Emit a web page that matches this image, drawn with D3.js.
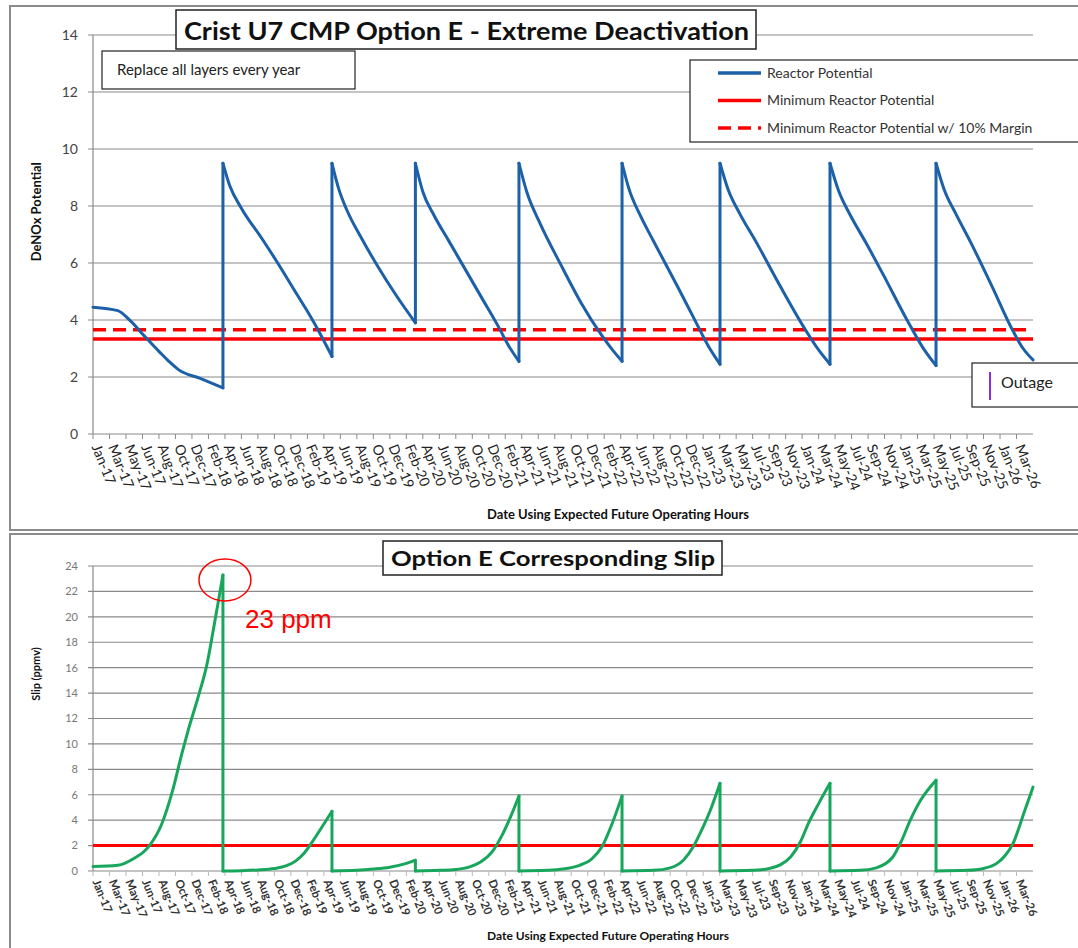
<!DOCTYPE html>
<html>
<head>
<meta charset="utf-8">
<script src="https://cdnjs.cloudflare.com/ajax/libs/d3/7.8.5/d3.min.js"></script>
<style>
  body { margin: 0; background: #fff; }
  svg { display: block; font-family: Lato, "Open Sans", sans-serif; }
</style>
</head>
<body>
<div id="chart"></div>
<script>
var width = 1078;
var height = 948;

// Date labels (expected future operating hours), one per category tick
var dateLabels = ["Jan-17","Mar-17","May-17","Jun-17","Aug-17","Oct-17","Dec-17",
  "Feb-18","Apr-18","Jun-18","Aug-18","Oct-18","Dec-18",
  "Feb-19","Apr-19","Jun-19","Aug-19","Oct-19","Dec-19",
  "Feb-20","Apr-20","Jun-20","Aug-20","Oct-20","Dec-20",
  "Feb-21","Apr-21","Jun-21","Aug-21","Oct-21","Dec-21",
  "Feb-22","Apr-22","Jun-22","Aug-22","Oct-22","Dec-22",
  "Jan-23","Mar-23","May-23","Jul-23","Sep-23","Nov-23",
  "Jan-24","Mar-24","May-24","Jul-24","Sep-24","Nov-24",
  "Jan-25","Mar-25","May-25","Jul-25","Sep-25","Nov-25",
  "Jan-26","Mar-26"];
var axisEnd = 57; // axis runs one category past the last label

// Reactor potential (position in category units, value)
var potentialPos = [0, 1.5, 2.3, 3.1, 4.0, 4.6, 5.2, 6.5, 7.88,
  7.88, 8.3, 8.97, 10.25, 11.2, 12.1, 12.9, 13.6, 14.49,
  14.49, 14.9, 15.4, 16.3, 17.3, 18.4, 19.55,
  19.55, 20.0, 20.7, 21.6, 22.6, 23.6, 24.6, 25.2, 25.83,
  25.83, 26.3, 27.1, 28.36, 29.6, 30.86, 31.5, 32.08,
  32.08, 32.5, 33.2, 33.96, 35.42, 36.45, 37.3, 38.02,
  38.02, 38.5, 39.2, 40.2, 41.66, 43.1, 44.0, 44.69,
  44.69, 45.2, 45.9, 46.88, 47.91, 49.36, 50.3, 51.12,
  51.12, 51.6, 52.3, 53.2, 54.5, 55.8, 56.4, 57];
var potentialVal = [4.45, 4.33, 3.95, 3.45, 2.9, 2.55, 2.25, 1.95, 1.62,
  9.5, 8.7, 7.95, 6.85, 6.0, 5.15, 4.4, 3.7, 2.72,
  9.5, 8.6, 7.85, 6.85, 5.85, 4.85, 3.9,
  9.5, 8.5, 7.65, 6.75, 5.75, 4.75, 3.75, 3.1, 2.55,
  9.5, 8.5, 7.4, 5.95, 4.6, 3.45, 2.95, 2.55,
  9.5, 8.6, 7.65, 6.8, 5.2, 4.05, 3.1, 2.45,
  9.5, 8.6, 7.75, 6.75, 5.2, 3.75, 2.95, 2.45,
  9.5, 8.55, 7.7, 6.7, 5.6, 4.0, 3.05, 2.4,
  9.5, 8.6, 7.75, 6.75, 5.2, 3.6, 3.0, 2.6];
var minPotential = 3.33;
var minPotentialMargin = 3.66;
var potentialTicks = [0, 2, 4, 6, 8, 10, 12, 14];

// Corresponding slip (ppmv)
var slipPos = [0, 1.5, 2.5, 3.3, 4.2, 4.8, 5.4, 5.8, 6.4, 6.9, 7.3, 7.6, 7.88,
  7.88, 9, 10, 11, 11.7, 12.3, 12.8, 13.4, 14.0, 14.49,
  14.49, 16, 17, 18, 19, 19.55,
  19.55, 21, 22, 22.8, 23.5, 24.2, 24.8, 25.3, 25.83,
  25.83, 27.5, 28.5, 29.5, 30.2, 30.86, 31.5, 32.08,
  32.08, 34, 35, 35.8, 36.4, 36.9, 37.5, 38.02,
  38.02, 40, 41, 41.7, 42.3, 42.9, 43.4, 44.0, 44.69,
  44.69, 46.5, 47.5, 48.5, 49.0, 49.56, 50.2, 51.12,
  51.12, 53, 54, 54.8, 55.3, 55.8, 56.46, 57];
var slipVal = [0.35, 0.45, 1.0, 1.8, 3.8, 6.2, 9.3, 11.2, 13.8, 16.2, 19, 21.2, 23.3,
  0, 0.02, 0.08, 0.2, 0.4, 0.8, 1.4, 2.5, 3.7, 4.7,
  0, 0.05, 0.15, 0.3, 0.6, 0.85,
  0, 0.05, 0.12, 0.3, 0.7, 1.5, 2.8, 4.2, 5.9,
  0, 0.05, 0.15, 0.45, 0.9, 1.9, 3.8, 5.9,
  0, 0.05, 0.25, 0.85, 1.9, 3.2, 5.0, 6.9,
  0, 0.05, 0.2, 0.5, 1.1, 2.3, 3.8, 5.3, 6.9,
  0, 0.05, 0.25, 1.1, 2.3, 4.0, 5.6, 7.15,
  0, 0.05, 0.2, 0.6, 1.2, 2.2, 4.6, 6.6];
var slipLimit = 2;
var slipPeakLabel = "23 ppm";
var slipTicks = [0, 2, 4, 6, 8, 10, 12, 14, 16, 18, 20, 22, 24];

var svg = d3.select("#chart")
  .append("svg")
  .attr("width", width)
  .attr("height", height);

svg.append("rect").attr("width", width).attr("height", height).attr("fill", "#fff");

// Panel frames
svg.append("rect")
  .attr("x", 10).attr("y", 6).attr("width", 1090).attr("height", 524)
  .attr("fill", "none").attr("stroke", "#8c8c8c").attr("stroke-width", 2);
svg.append("rect")
  .attr("x", 10).attr("y", 534).attr("width", 1090).attr("height", 430)
  .attr("fill", "none").attr("stroke", "#8c8c8c").attr("stroke-width", 2);

// Scales
var x = d3.scaleLinear().domain([0, axisEnd]).range([93, 1033]);
var yTop = d3.scaleLinear().domain([0, 14]).range([434, 35]);
var yBot = d3.scaleLinear().domain([0, 24]).range([871, 566]);

// Draws grid, y labels and the rotated date axis for one panel
function drawAxes(y, ticks, opt) {
  var g = svg.append("g");
  g.selectAll(".grid")
    .data(ticks.filter(function(t) { return t > 0; }))
    .enter().append("line")
    .attr("x1", 88).attr("x2", x(axisEnd))
    .attr("y1", function(d) { return y(d); })
    .attr("y2", function(d) { return y(d); })
    .attr("stroke", "#8a8a8a").attr("stroke-width", 1.2);

  g.selectAll(".ylab")
    .data(ticks)
    .enter().append("text")
    .attr("x", 78)
    .attr("y", function(d) { return y(d); })
    .attr("dy", "0.35em")
    .attr("text-anchor", "end")
    .attr("font-size", opt.yFont)
    .attr("fill", opt.yColor)
    .text(function(d) { return d; });

  // axis lines
  g.append("line")
    .attr("x1", x(0)).attr("x2", x(0))
    .attr("y1", y(ticks[ticks.length - 1])).attr("y2", y(0))
    .attr("stroke", "#8a8a8a").attr("stroke-width", 1.2);
  g.append("line")
    .attr("x1", 88).attr("x2", x(axisEnd))
    .attr("y1", y(0)).attr("y2", y(0))
    .attr("stroke", "#8a8a8a").attr("stroke-width", 1.2);

  g.selectAll(".xtick")
    .data(dateLabels)
    .enter().append("line")
    .attr("x1", function(d, i) { return x(i); })
    .attr("x2", function(d, i) { return x(i); })
    .attr("y1", y(0)).attr("y2", y(0) + 5)
    .attr("stroke", opt.tickColor).attr("stroke-width", 1);

  g.selectAll(".xlab")
    .data(dateLabels)
    .enter().append("text")
    .attr("transform", function(d, i) {
      return "translate(" + (x(i) + opt.labelDx) + "," + (y(0) + opt.labelDy) + ") rotate(68)";
    })
    .attr("dy", "0.35em")
    .attr("font-size", opt.xFont)
    .attr("fill", opt.xColor)
    .attr("font-weight", opt.xWeight)
    .text(function(d) { return d; });
  return g;
}

// Split a series at its vertical jumps so each decay/rise can be smoothed
function drawSeries(pos, val, y, color) {
  var pts = d3.zip(pos, val);
  var segs = [[pts[0]]];
  for (var i = 1; i < pts.length; i++) {
    if (pts[i][0] === pts[i - 1][0]) {
      svg.append("line")
        .attr("x1", x(pts[i][0])).attr("x2", x(pts[i][0]))
        .attr("y1", y(pts[i - 1][1])).attr("y2", y(pts[i][1]))
        .attr("stroke", color).attr("stroke-width", 3)
        .attr("stroke-linecap", "round");
      segs.push([pts[i]]);
    } else {
      segs[segs.length - 1].push(pts[i]);
    }
  }
  var line = d3.line()
    .curve(d3.curveMonotoneX)
    .x(function(d) { return x(d[0]); })
    .y(function(d) { return y(d[1]); });
  svg.selectAll(null)
    .data(segs)
    .enter().append("path")
    .attr("d", line)
    .attr("fill", "none")
    .attr("stroke", color)
    .attr("stroke-width", 3)
    .attr("stroke-linejoin", "round")
    .attr("stroke-linecap", "round");
}

// ---------- Top panel: DeNOx potential ----------
drawAxes(yTop, potentialTicks, {
  yFont: 14, yColor: "#444", xFont: 14, xColor: "#222", xWeight: "normal",
  tickColor: "#8a8a8a", labelDx: 3, labelDy: 11
});

svg.append("line")
  .attr("x1", x(0)).attr("x2", x(axisEnd))
  .attr("y1", yTop(minPotentialMargin)).attr("y2", yTop(minPotentialMargin))
  .attr("stroke", "#ff0000").attr("stroke-width", 3.5)
  .attr("stroke-dasharray", "13,7");
svg.append("line")
  .attr("x1", x(0)).attr("x2", x(axisEnd))
  .attr("y1", yTop(minPotential)).attr("y2", yTop(minPotential))
  .attr("stroke", "#ff0000").attr("stroke-width", 3.5);

drawSeries(potentialPos, potentialVal, yTop, "#1c60a8");

// Title
svg.append("rect")
  .attr("x", 176).attr("y", 10).attr("width", 580).attr("height", 39)
  .attr("fill", "#fff").attr("stroke", "#222").attr("stroke-width", 1.5);
svg.append("text")
  .attr("x", 184).attr("y", 40)
  .attr("font-size", 25).attr("font-weight", "bold").attr("fill", "#111")
  .attr("textLength", 565).attr("lengthAdjust", "spacingAndGlyphs")
  .text("Crist U7 CMP Option E - Extreme Deactivation");

// Note box
svg.append("rect")
  .attr("x", 102).attr("y", 51).attr("width", 253).attr("height", 38)
  .attr("fill", "#fff").attr("stroke", "#222").attr("stroke-width", 1.2);
svg.append("text")
  .attr("x", 117).attr("y", 75)
  .attr("font-size", 15).attr("fill", "#222")
  .text("Replace all layers every year");

// Legend
var legendItems = [
  { name: "Reactor Potential", color: "#1c60a8", dash: null },
  { name: "Minimum Reactor Potential", color: "#ff0000", dash: null },
  { name: "Minimum Reactor Potential w/ 10% Margin", color: "#ff0000", dash: "13,7" }
];
svg.append("rect")
  .attr("x", 690).attr("y", 60).attr("width", 400).attr("height", 82)
  .attr("fill", "#fff").attr("stroke", "#222").attr("stroke-width", 1.2);
var legend = svg.selectAll(".legend")
  .data(legendItems)
  .enter().append("g")
  .attr("transform", function(d, i) { return "translate(0," + (73 + i * 27.5) + ")"; });
legend.append("line")
  .attr("x1", 718).attr("x2", 761)
  .attr("stroke", function(d) { return d.color; })
  .attr("stroke-width", 3.5)
  .attr("stroke-dasharray", function(d) { return d.dash; });
legend.append("text")
  .attr("x", 767).attr("dy", "0.35em")
  .attr("font-size", 14).attr("fill", "#333")
  .text(function(d) { return d.name; });

// Outage box
svg.append("rect")
  .attr("x", 972).attr("y", 363).attr("width", 120).attr("height", 44)
  .attr("fill", "#fff").attr("stroke", "#222").attr("stroke-width", 1.2);
svg.append("line")
  .attr("x1", 990).attr("x2", 990).attr("y1", 372).attr("y2", 400)
  .attr("stroke", "#8a2be2").attr("stroke-width", 2);
svg.append("text")
  .attr("x", 1001).attr("y", 388)
  .attr("font-size", 16).attr("fill", "#222")
  .text("Outage");

// Axis titles
svg.append("text")
  .attr("transform", "translate(41," + yTop(7.8) + ") rotate(-90)")
  .attr("text-anchor", "middle")
  .attr("font-size", 13).attr("font-weight", "bold").attr("fill", "#111")
  .text("DeNOx Potential");
svg.append("text")
  .attr("x", 618).attr("y", 519)
  .attr("text-anchor", "middle")
  .attr("font-size", 13).attr("font-weight", "bold").attr("fill", "#111")
  .text("Date Using Expected Future Operating Hours");

// ---------- Bottom panel: slip ----------
drawAxes(yBot, slipTicks, {
  yFont: 11, yColor: "#777", xFont: 11.5, xColor: "#333", xWeight: "bold",
  tickColor: "#bbb", labelDx: 3, labelDy: 9
});

svg.append("line")
  .attr("x1", x(0)).attr("x2", x(axisEnd))
  .attr("y1", yBot(slipLimit)).attr("y2", yBot(slipLimit))
  .attr("stroke", "#ff0000").attr("stroke-width", 3);

drawSeries(slipPos, slipVal, yBot, "#17a65c");

// Peak annotation
var peakIdx = slipVal.indexOf(d3.max(slipVal));
svg.append("ellipse")
  .attr("cx", x(slipPos[peakIdx]) + 2).attr("cy", yBot(slipVal[peakIdx]) + 5)
  .attr("rx", 26).attr("ry", 21)
  .attr("fill", "none").attr("stroke", "#ff0000").attr("stroke-width", 1.5);
svg.append("text")
  .attr("x", 245).attr("y", 628)
  .attr("font-family", "'Liberation Sans', Arial, sans-serif")
  .attr("font-size", 26).attr("fill", "#ff0000")
  .text(slipPeakLabel);

// Title
svg.append("rect")
  .attr("x", 383).attr("y", 541).attr("width", 339).attr("height", 34)
  .attr("fill", "#fff").attr("stroke", "#222").attr("stroke-width", 1.5);
svg.append("text")
  .attr("x", 391).attr("y", 566)
  .attr("font-size", 21).attr("font-weight", "bold").attr("fill", "#111")
  .attr("textLength", 324).attr("lengthAdjust", "spacingAndGlyphs")
  .text("Option E Corresponding Slip");

svg.append("text")
  .attr("transform", "translate(40," + yBot(15.5) + ") rotate(-90)")
  .attr("text-anchor", "middle")
  .attr("font-size", 11).attr("font-weight", "bold").attr("fill", "#111")
  .text("Slip (ppmv)");
svg.append("text")
  .attr("x", 608).attr("y", 940)
  .attr("text-anchor", "middle")
  .attr("font-size", 12).attr("font-weight", "bold").attr("fill", "#111")
  .text("Date Using Expected Future Operating Hours");
</script>
</body>
</html>
